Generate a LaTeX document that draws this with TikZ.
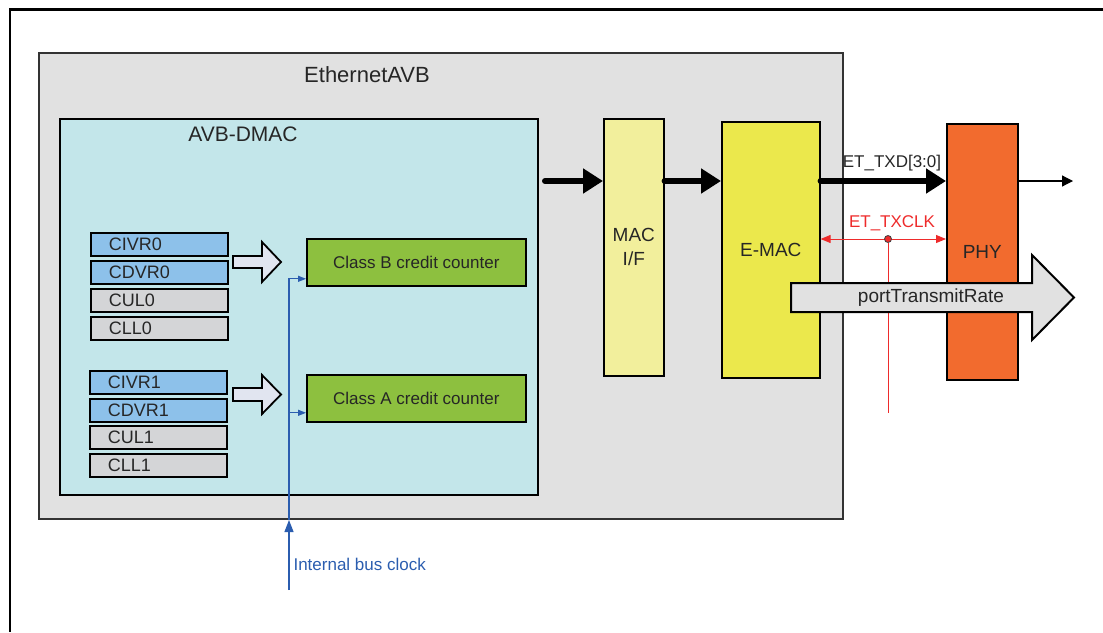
\documentclass[tikz,border=0pt]{standalone}
\usepackage{fontspec}
\setmainfont{Liberation Sans}
\usetikzlibrary{arrows.meta, positioning}

\definecolor{avbgray}{HTML}{E1E1E1}
\definecolor{dmaccyan}{HTML}{C3E6EA}
\definecolor{regblue}{HTML}{8DC1EA}
\definecolor{reggray}{HTML}{D4D5D7}
\definecolor{cntgreen}{HTML}{8DC03F}
\definecolor{macyellow}{HTML}{F2EF9C}
\definecolor{emacyellow}{HTML}{EBE84C}
\definecolor{phyorange}{HTML}{F26B2E}
\definecolor{clkblue}{HTML}{2B5DAF}
\definecolor{txred}{HTML}{EE2B2B}
\definecolor{hollowfill}{HTML}{E1E5F0}

\tikzset{
  blk/.style={draw=black, line width=1.6pt, anchor=north west, inner sep=0pt, text=black!85},
  title/.style={text=black!85, font=\fontsize{22}{26}\selectfont},
  reg/.style={blk, text width=101pt, inner xsep=18pt, minimum height=23pt, align=left,
    font=\fontsize{18}{20}\selectfont},
  counter/.style={blk, fill=cntgreen, minimum width=219pt, minimum height=47pt,
    font=\fontsize{17}{20}\selectfont},
  unit/.style={blk, minimum height=256pt, align=center, font=\fontsize{19}{24}\selectfont},
  hollow/.style={draw=black, line width=1.8pt, fill=hollowfill, line join=miter},
  bus/.style={line width=6pt, line cap=round, -{Triangle[length=20pt,width=24pt]}},
  clk/.style={draw=clkblue, line width=1.2pt},
  txclk/.style={draw=txred, line width=1pt},
  sig/.style={text=black!85, font=\fontsize{17}{20}\selectfont},
}

\begin{document}
\begin{tikzpicture}[x=1pt, y=-1pt]
    \useasboundingbox (0,0) rectangle (1103,632);

    % --- frame ---
    \draw[line width=2.5pt] (1103,9.5) -- (9.8,9.5) -- (9.8,632);

    % --- EthernetAVB ---
    \node[blk, fill=avbgray, draw=black!80, line width=2pt, minimum width=804pt, minimum height=466pt] (avb) at (38,52) {};
    \node[title] (avbtitle) at (367,75) {EthernetAVB};

    % --- AVB-DMAC ---
    \node[blk, fill=dmaccyan, minimum width=478pt, minimum height=376pt] (dmac) at (59,118) {};
    \node[title, font=\fontsize{21}{24}\selectfont] (dmactitle) at (243,134) {AVB-DMAC};

    % registers
    \node[reg, fill=regblue] (civr0) at (90,232) {CIVR0};
    \node[reg, fill=regblue] (cdvr0) at (90,260) {CDVR0};
    \node[reg, fill=reggray] (cul0) at (90,288) {CUL0};
    \node[reg, fill=reggray] (cll0) at (90,316) {CLL0};

    \node[reg, fill=regblue] (civr1) at (89,370) {CIVR1};
    \node[reg, fill=regblue] (cdvr1) at (89,398) {CDVR1};
    \node[reg, fill=reggray] (cul1) at (89,425) {CUL1};
    \node[reg, fill=reggray] (cll1) at (89,453) {CLL1};

    % hollow arrows
    \filldraw[hollow] (233,256) -- (262,256) -- (262,242) -- (281,262) -- (262,282) -- (262,268) -- (233,268) -- cycle;
    \filldraw[hollow] (233,388) -- (262,388) -- (262,375) -- (281,394.5) -- (262,414) -- (262,401) -- (233,401) -- cycle;

    % credit counters
    \node[counter] (clsb) at (306,238) {Class B credit counter};
    \node[counter] (clsa) at (306,374) {Class A credit counter};

    % --- internal bus clock ---
    \coordinate (busin) at (289,590);
    \coordinate (clkb) at ([yshift=-16.5pt]clsb.west);
    \coordinate (clka) at ([yshift=-14.5pt]clsa.west);
    \draw[clk, -{Triangle[length=12pt,width=9pt]}] (busin) -- (busin |- avb.south);
    \draw[clk, -{Triangle[length=8pt,width=6pt]}] (busin |- avb.south) |- (clkb);
    \draw[clk, -{Triangle[length=8pt,width=6pt]}] (busin |- clka) -- (clka);
    \node[anchor=west, text=clkblue, font=\fontsize{17}{20}\selectfont] (clklabel) at (290,564) {Internal bus clock};

    % --- MAC I/F, E-MAC, PHY ---
    \node[unit, fill=macyellow, minimum width=60pt, minimum height=257pt] (macif) at (603,118) {MAC\\I/F};
    \node[unit, fill=emacyellow, minimum width=98pt] (emac) at (721,121) {E-MAC};
    \node[unit, fill=phyorange, minimum width=71pt] (phy) at (946,123) {PHY};

    % --- data path ---
    \coordinate (txrow) at (0,181);
    \coordinate (dmacout) at (545,181);
    \coordinate (txout) at (1073,181);
    \draw[bus] (dmacout) -- (macif.west |- txrow);
    \draw[bus] (macif.east |- txrow) -- (emac.west |- txrow);
    \draw[bus] (emac.east |- txrow) -- (phy.west |- txrow);
    \node[sig] (txdlabel) at (892,163) {ET\_TXD[3:0]};
    \draw[line width=1.2pt, -{Triangle[length=11pt,width=11pt]}] (phy.east |- txrow) -- (txout);

    % --- ET_TXCLK ---
    \coordinate (clkrow) at (0,239);
    \coordinate (txclkend) at (888,413);
    \draw[txclk, {Triangle[length=10pt,width=8pt]}-{Triangle[length=10pt,width=8pt]}] (emac.east |- clkrow) -- (phy.west |- clkrow);
    \node[circle, fill=txred, draw=black!75, line width=0.8pt, inner sep=0pt, minimum size=7pt] (txclkdot) at (888,239) {};
    \draw[txclk] (txclkdot) -- (txclkend);
    \node[sig, text=txred] (txclklabel) at (892,223) {ET\_TXCLK};

    % --- portTransmitRate ---
    \filldraw[hollow, fill=avbgray, line width=2pt] (791,283) -- (1032,283) -- (1032,255) -- (1074,297.5) -- (1032,340) -- (1032,312) -- (791,312) -- cycle;
    \node[sig, font=\fontsize{19}{22}\selectfont] (ptrlabel) at (931,298) {portTransmitRate};
\end{tikzpicture}
\end{document}
